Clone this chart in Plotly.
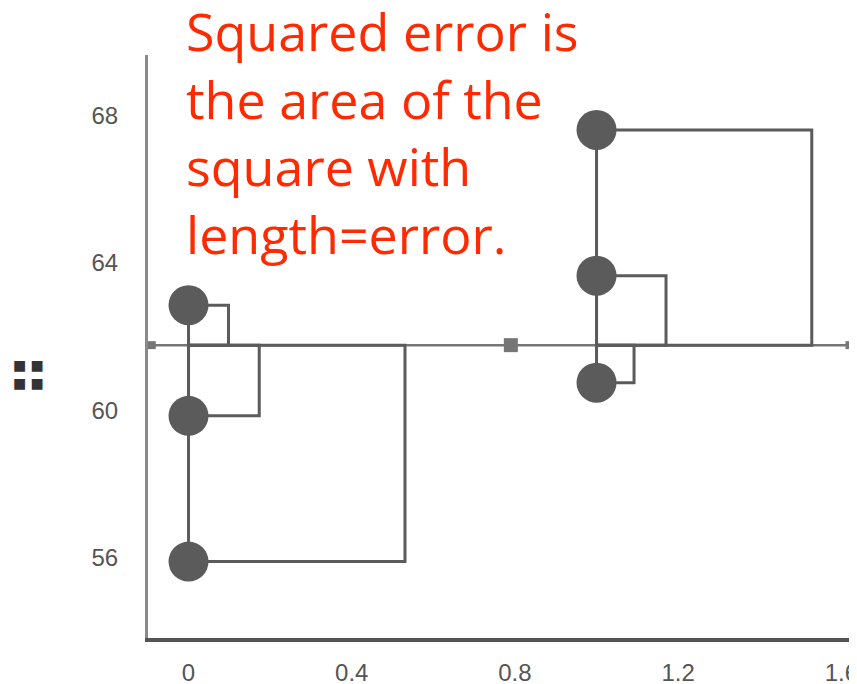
import plotly.graph_objects as go

# ---- data ----
group_x = [0, 0, 0, 1, 1, 1]
values = [62.85, 59.85, 55.9, 67.6, 63.65, 60.75]
mean_line_x = [-0.09, 1.62]
mean_marker_x = [0.79]
x_ticks = [0, 0.4, 0.8, 1.2, 1.6]
x_tick_labels = ["0", "0.4", "0.8", "1.2", "1.6"]
y_ticks = [56, 60, 64, 68]
y_tick_labels = ["56", "60", "64", "68"]
title_text = "Squared error is<br>the area of the<br>square with<br>length=error."
y_label_text = "■\u2009\u200a■<br>■\u2009\u200a■"

mean_val = sum(values) / len(values)

# aspect factor so squares look square on screen (x-units per y-unit)
X_RANGE = [-0.0993, 1.658]
Y_RANGE = [53.83, 69.63]
W_PLOT, H_PLOT = 717, 583
k = ((H_PLOT / (Y_RANGE[1] - Y_RANGE[0])) / (W_PLOT / (X_RANGE[1] - X_RANGE[0])))

dark = "#5b5b5b"
fig = go.Figure()

# mean line
fig.add_trace(go.Scatter(x=mean_line_x, y=[mean_val] * 2, mode="lines+markers",
                         line=dict(color="#767676", width=2.5),
                         marker=dict(symbol="square", size=8, color="#767676"),
                         hoverinfo="skip", showlegend=False))
fig.add_trace(go.Scatter(x=mean_marker_x, y=[mean_val], mode="markers",
                         marker=dict(symbol="square", size=14, color="#767676"),
                         hoverinfo="skip", showlegend=False))

# squares
for gx, v in zip(group_x, values):
    e = abs(v - mean_val)
    xr = gx + e * k
    fig.add_trace(go.Scatter(x=[gx, xr, xr, gx, gx], y=[v, v, mean_val, mean_val, v],
                             mode="lines", line=dict(color=dark, width=3),
                             hoverinfo="skip", showlegend=False))

# points
fig.add_trace(go.Scatter(x=group_x, y=values, mode="markers",
                         marker=dict(size=40, color=dark), showlegend=False))

fig.add_annotation(text=title_text, x=0, xref="x", xanchor="left", xshift=-5,
                   y=1.106, yref="paper", yanchor="top", showarrow=False, align="left",
                   font=dict(family="Open Sans", size=52, color="#FF2A00"))

# y-axis label glyph (2x2 dots)
fig.add_annotation(text=y_label_text, x=-0.166, xref="paper", xanchor="center",
                   y=0.453, yref="paper", yanchor="middle", showarrow=False,
                   font=dict(family="DejaVu Sans", size=14, color="#333333"))

fig.update_layout(
    width=857, height=684,
    margin=dict(l=140, r=0, t=47, b=54, autoexpand=False),
    plot_bgcolor="white", paper_bgcolor="white",
    xaxis=dict(range=X_RANGE, tickvals=x_ticks, ticktext=x_tick_labels,
               showgrid=False, zeroline=False, showline=True, linecolor="#555555",
               linewidth=4, ticks="", ticklabelstandoff=10,
               tickfont=dict(family="Liberation Sans", size=24, color="#555555")),
    yaxis=dict(range=Y_RANGE, tickvals=y_ticks, ticktext=y_tick_labels,
               showgrid=False, zeroline=False, showline=True, linecolor="#8a8a8a",
               linewidth=3, ticks="", ticklabelstandoff=22,
               tickfont=dict(family="Liberation Sans", size=24, color="#555555")),
)

fig.write_html("out.html")
